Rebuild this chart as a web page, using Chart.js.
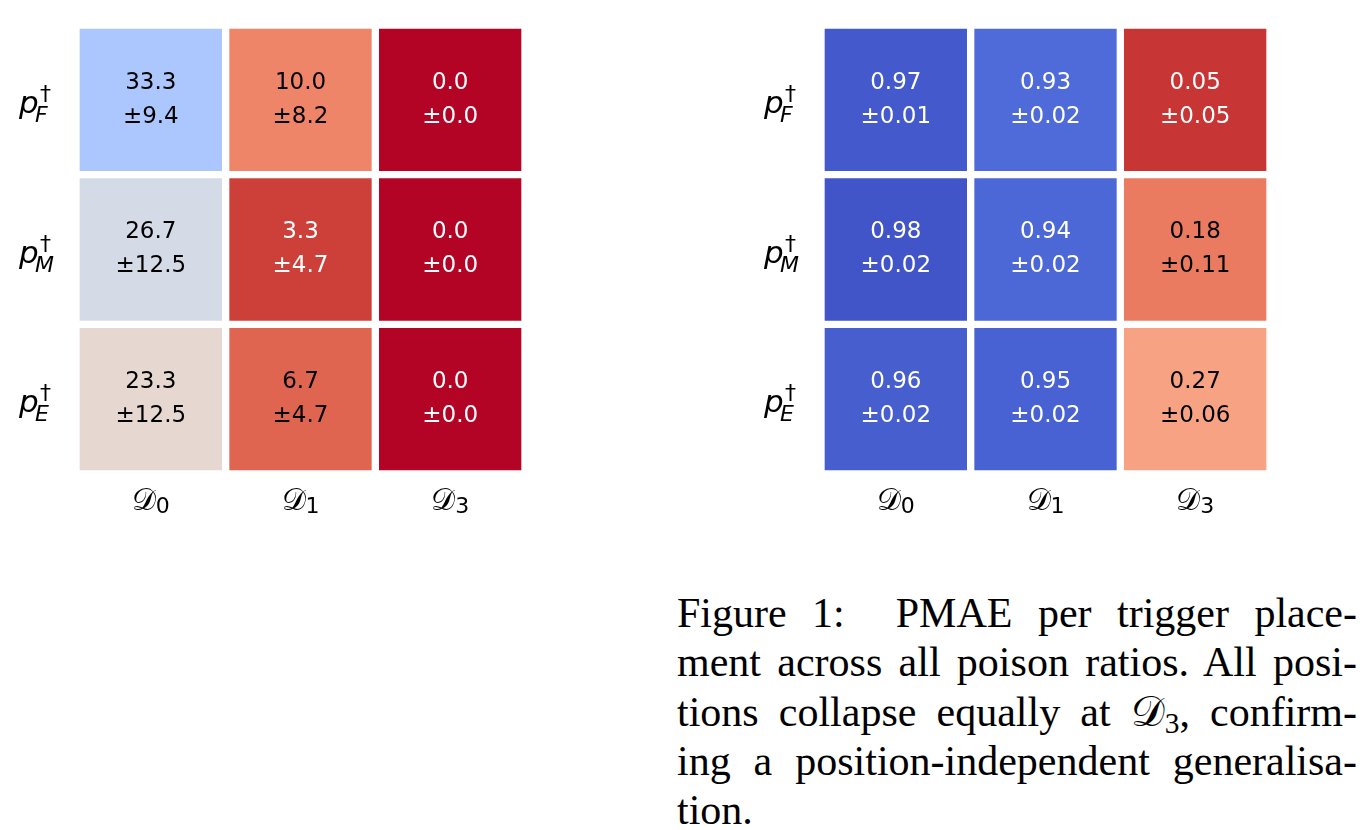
<!DOCTYPE html>
<html><head><meta charset="utf-8">
<script src="https://cdn.jsdelivr.net/npm/chart.js@4.4.1/dist/chart.umd.min.js"></script>
<style>
html,body{margin:0;padding:0;background:#fff;width:1362px;height:830px;overflow:hidden;}
#c1wrap{position:absolute;left:0;top:0;width:650px;height:560px;}
#c2wrap{position:absolute;left:700px;top:0;width:662px;height:560px;}
#caption{position:absolute;left:677px;top:589px;width:680px;font-family:'Liberation Serif',serif;font-size:38px;line-height:49px;color:#000;}
.ln{text-align:justify;text-align-last:justify;white-space:normal;}
.last{text-align:left;text-align-last:left;}
.cal{font-family:'DejaVu Sans',serif;}
sub{font-size:0.7em;vertical-align:-0.25em;line-height:0;}
</style>
</head><body>
<div id="c1wrap"><canvas id="c1"></canvas></div>
<div id="c2wrap"><canvas id="c2"></canvas></div>
<div id="caption">
<div class="ln">Figure 1:&nbsp; PMAE per trigger place-</div>
<div class="ln" id="fitline">ment across all poison ratios. All posi-</div>
<div class="ln">tions collapse equally at <span class="cal">𝒟</span><sub>3</sub>, confirm-</div>
<div class="ln">ing a position-independent generalisa-</div>
<div class="ln last">tion.</div>
</div>
<script>
// ---- data ----
const columnSubs = ['0', '1', '3'];          // D_0, D_1, D_3
const rowSubs = ['F', 'M', 'E'];             // p_F, p_M, p_E (top to bottom)
const leftMean = [[33.3, 10.0, 0.0], [26.7, 3.3, 0.0], [23.3, 6.7, 0.0]];
const leftStd  = [[9.4, 8.2, 0.0], [12.5, 4.7, 0.0], [12.5, 4.7, 0.0]];
const rightMean = [[0.97, 0.93, 0.05], [0.98, 0.94, 0.18], [0.96, 0.95, 0.27]];
const rightStd  = [[0.01, 0.02, 0.05], [0.02, 0.02, 0.11], [0.02, 0.02, 0.06]];

// fit caption font so the tight line fills the column
(function(){
  const c = document.createElement('canvas').getContext('2d');
  c.font = "100px 'Liberation Serif'";
  const w = c.measureText('ment across all poison ratios. All posi-').width;
  const fs = Math.min(42, 100 * 668 / w);
  document.getElementById('caption').style.fontSize = fs.toFixed(2) + 'px';
})();

// ---- coolwarm colormap ----
const CW = [[59,76,192],[68,90,204],[77,104,215],[87,117,225],[98,130,234],[108,142,241],[119,154,247],[130,165,251],[141,176,254],[152,185,255],[163,194,255],[174,201,253],[184,208,249],[194,213,244],[204,217,238],[213,219,230],[221,221,221],[229,216,209],[236,211,197],[241,204,185],[245,196,173],[247,187,160],[247,177,148],[247,166,135],[244,154,123],[241,141,111],[236,127,99],[229,112,88],[222,96,77],[213,80,66],[203,62,56],[192,40,47],[180,4,38]];
function coolwarm(t){
  t = Math.max(0, Math.min(1, t));
  const p = t * (CW.length - 1), i = Math.min(CW.length - 2, Math.floor(p)), f = p - i;
  const c = CW[i].map((v, k) => Math.round(v + (CW[i+1][k] - v) * f));
  return 'rgb(' + c.join(',') + ')';
}
const FONT = "'DejaVu Sans', sans-serif";

function makeChart(id, mean, std, vmax, digits){
  const datasets = [];
  for (let r = rowSubs.length - 1; r >= 0; r--) {
    datasets.push({
      label: rowSubs[r],
      data: mean[r].map(() => 1),
      backgroundColor: mean[r].map(v => coolwarm(1 - v / vmax)),
      borderColor: '#ffffff', borderWidth: 4, borderSkipped: false,
      barPercentage: 1, categoryPercentage: 1,
      rowIndex: r
    });
  }
  const cellText = {
    id: 'cellText',
    afterDatasetsDraw(chart){
      const ctx = chart.ctx;
      ctx.save();
      ctx.textAlign = 'center'; ctx.textBaseline = 'middle';
      ctx.font = '23px ' + FONT;
      chart.data.datasets.forEach((ds, di) => {
        const r = ds.rowIndex;
        chart.getDatasetMeta(di).data.forEach((el, c) => {
          const cy = (el.y + el.base) / 2;
          const t = mean[r][c] / vmax;
          ctx.fillStyle = Math.abs(t - 0.5) > 0.4 ? '#ffffff' : '#000000';
          ctx.fillText(mean[r][c].toFixed(digits), el.x, cy - 17);
          ctx.fillText('\u00b1' + std[r][c].toFixed(digits), el.x, cy + 17);
        });
      });
      ctx.restore();
    }
  };
  const axisLabels = {
    id: 'axisLabels',
    afterDraw(chart){
      const ctx = chart.ctx, xs = chart.scales.x, ys = chart.scales.y, ca = chart.chartArea;
      ctx.save();
      ctx.fillStyle = '#000';
      ctx.textBaseline = 'alphabetic';
      columnSubs.forEach((s, i) => {
        const x = xs.getPixelForValue(i);
        ctx.font = '30px ' + FONT;
        const w1 = ctx.measureText('\u{1D49F}').width;
        ctx.font = '22px ' + FONT;
        const w2 = ctx.measureText(s).width;
        const x0 = x - (w1 + w2) / 2;
        ctx.font = '30px ' + FONT;
        ctx.textAlign = 'left';
        ctx.fillText('\u{1D49F}', x0, ca.bottom + 36);
        ctx.font = '22px ' + FONT;
        ctx.fillText(s, x0 + w1, ca.bottom + 39);
      });
      rowSubs.forEach((s, r) => {
        const y = ys.getPixelForValue(rowSubs.length - r - 0.5);
        const x0 = ca.left - 57;
        ctx.textAlign = 'left';
        ctx.font = 'italic 31px ' + FONT;
        ctx.fillText('p', x0, y + 13);
        ctx.font = 'italic 22px ' + FONT;
        ctx.fillText(s, x0 + 16, y + 22);
        ctx.font = '22px ' + FONT;
        ctx.fillText('\u2020', x0 + 21, y + 1);
      });
      ctx.restore();
    }
  };
  return new Chart(document.getElementById(id), {
    type: 'bar',
    data: { labels: columnSubs.map(s => 'D' + s), datasets },
    options: {
      responsive: true, maintainAspectRatio: false, animation: false,
      layout: { padding: id === 'c1' ? {left: 76, right: 125, top: 25, bottom: 86} : {left: 121, right: 92, top: 25, bottom: 86} },
      plugins: { legend: {display: false}, tooltip: {enabled: false} },
      scales: {
        x: { type: 'category', stacked: true, display: false, offset: true },
        y: { type: 'linear', stacked: true, display: false, min: 0, max: 3 }
      }
    },
    plugins: [cellText, axisLabels]
  });
}
makeChart('c1', leftMean, leftStd, 50, 1);
makeChart('c2', rightMean, rightStd, 1, 2);
</script>
</body></html>
